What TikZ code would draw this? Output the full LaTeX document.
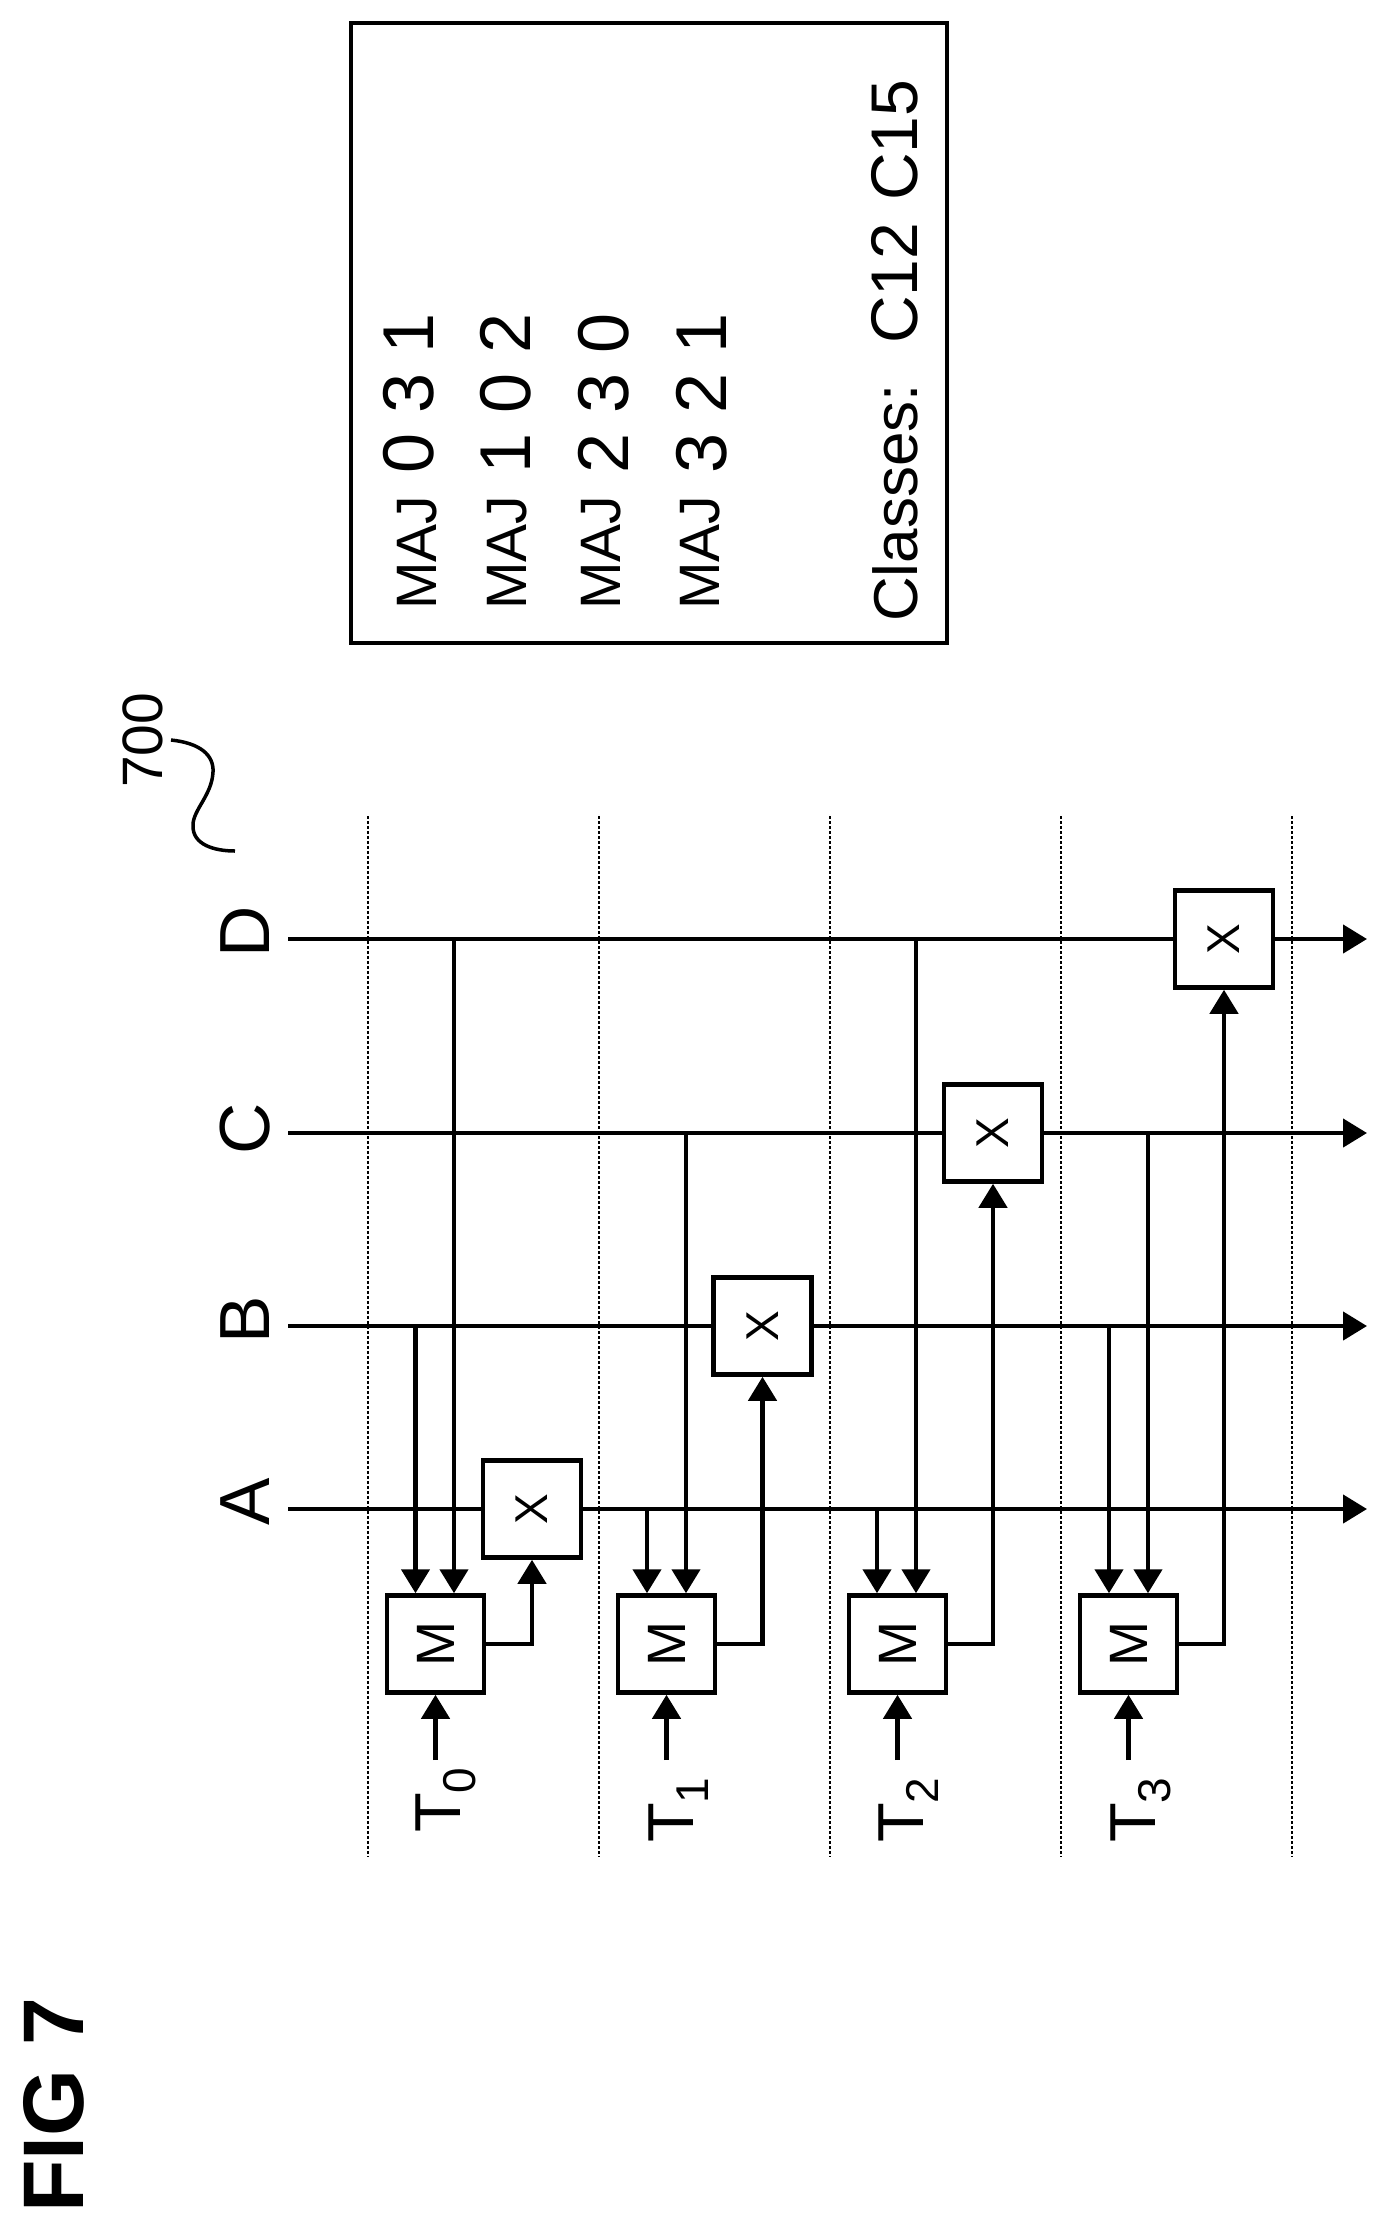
\documentclass[tikz,border=0pt]{standalone}
\usepackage{fontspec}
\usepackage{graphicx}
\setmainfont{Liberation Sans}
\usetikzlibrary{arrows.meta}
\newcommand{\fs}[1]{\fontsize{#1}{#1}\selectfont}
\newcommand{\tsub}[1]{\raisebox{-15pt}{\fs{46}#1}}
\newcommand{\gap}{\hspace{20pt}}
\tikzset{
	wire/.style={line width=4.5pt},
	arr/.style={wire, -{Triangle[length=24pt,width=28pt]}},
	gridline/.style={line width=2.5pt, dash pattern=on 2.5pt off 2.5pt},
	mbox/.style={draw, line width=4.5pt, fill=white, inner sep=0pt, minimum width=97pt, minimum height=97pt, font=\fs{54}},
	xbox/.style={draw, line width=4.5pt, fill=white, inner sep=0pt, minimum width=98pt, minimum height=97pt, font=\fs{46}},
	vtext/.style={rotate=90, anchor=base west, inner sep=0pt},
	wirelabel/.style={rotate=90, anchor=base, inner sep=0pt, font=\fs{71}},
	tlab/.style={vtext, font=\fs{65}},
	maj/.style={vtext, font=\fs{57}},
	digits/.style={vtext, font=\fs{72}}
}

\begin{document}
\begin{tikzpicture}[x=1pt, y=-1pt]
	\useasboundingbox (0,0) rectangle (1390,2228);
	% time steps
	\draw[gridline] (368,816) -- (368,1857);
	\draw[gridline] (599,816) -- (599,1857);
	\draw[gridline] (830,816) -- (830,1857);
	\draw[gridline] (1061,816) -- (1061,1857);
	\draw[gridline] (1292,816) -- (1292,1857);
	% qubit lines
	\coordinate (As) at (288,1509);
	\coordinate (Bs) at (288,1326);
	\coordinate (Cs) at (288,1133);
	\coordinate (Ds) at (288,939);
	\coordinate (Ae) at (1367,1509);
	\coordinate (Be) at (1367,1326);
	\coordinate (Ce) at (1367,1133);
	\coordinate (De) at (1367,939);
	\node[wirelabel] (A) at (269,1502) {A};
	\node[wirelabel] (B) at (269,1320) {B};
	\node[wirelabel] (C) at (269,1129) {C};
	\node[wirelabel] (D) at (269,932) {D};
	% boxes
	\node[mbox] (m0) at (435.5,1644) {\rotatebox{90}{M}};
	\node[mbox] (m1) at (666.5,1644) {\rotatebox{90}{M}};
	\node[mbox] (m2) at (897.5,1644) {\rotatebox{90}{M}};
	\node[mbox] (m3) at (1128.5,1644) {\rotatebox{90}{M}};
	\node[xbox] (x0) at (532,1509) {\rotatebox{90}{X}};
	\node[xbox] (x1) at (762.5,1326) {\rotatebox{90}{X}};
	\node[xbox] (x2) at (993,1133) {\rotatebox{90}{X}};
	\node[xbox] (x3) at (1224,939) {\rotatebox{90}{X}};
	\draw[wire] (As) -- (x0);
	\draw[arr] (x0) -- (Ae);
	\draw[wire] (Bs) -- (x1);
	\draw[arr] (x1) -- (Be);
	\draw[wire] (Cs) -- (x2);
	\draw[arr] (x2) -- (Ce);
	\draw[wire] (Ds) -- (x3);
	\draw[arr] (x3) -- (De);
	% taps into the M boxes
	\coordinate (t00) at (415.5,1326);
	\coordinate (t01) at (454,939);
	\coordinate (t10) at (647,1509);
	\coordinate (t11) at (686,1133);
	\coordinate (t20) at (877,1509);
	\coordinate (t21) at (916,939);
	\coordinate (t30) at (1109,1326);
	\coordinate (t31) at (1148,1133);
	\draw[arr] (t00) -- (t00 |- m0.north);
	\draw[arr] (t01) -- (t01 |- m0.north);
	\draw[arr] (t10) -- (t10 |- m1.north);
	\draw[arr] (t11) -- (t11 |- m1.north);
	\draw[arr] (t20) -- (t20 |- m2.north);
	\draw[arr] (t21) -- (t21 |- m2.north);
	\draw[arr] (t30) -- (t30 |- m3.north);
	\draw[arr] (t31) -- (t31 |- m3.north);
	% M to X
	\draw[arr] (m0.east) -| (x0.south);
	\draw[arr] (m1.east) -| (x1.south);
	\draw[arr] (m2.east) -| (x2.south);
	\draw[arr] (m3.east) -| (x3.south);
	% T inputs
	\coordinate (i0) at (435.5,1760);
	\coordinate (i1) at (666.5,1760);
	\coordinate (i2) at (897.5,1760);
	\coordinate (i3) at (1128.5,1760);
	\draw[arr] (i0) -- (m0.south);
	\draw[arr] (i1) -- (m1.south);
	\draw[arr] (i2) -- (m2.south);
	\draw[arr] (i3) -- (m3.south);
	\node[tlab] (T0) at (460,1833) {T\tsub{0}};
	\node[tlab] (T1) at (693,1843) {T\tsub{1}};
	\node[tlab] (T2) at (923,1843) {T\tsub{2}};
	\node[tlab] (T3) at (1155,1843) {T\tsub{3}};
	% reference number
	\node[vtext, font=\fs{57}] (ref) at (162,788) {700};
	\coordinate (refa) at (171,740);
	\coordinate (refb) at (235,851);
	\draw[line width=3.5pt] (refa) .. controls (200,743) and (214,755) .. (213,772) .. controls (212,795) and (193,810) .. (193,825) .. controls (192,845) and (215,851) .. (refb);
	% legend
	\node[draw, line width=4.5pt, minimum width=596pt, minimum height=620pt, inner sep=0pt] (legend) at (649,333) {};
	\node[maj] (maj0) at (436,610) {MAJ};
	\node[maj] (maj1) at (526,610) {MAJ};
	\node[maj] (maj2) at (620,610) {MAJ};
	\node[maj] (maj3) at (719,610) {MAJ};
	\node[digits] (dig0) at (433,474) {0\gap 3\gap 1};
	\node[digits] (dig1) at (530,474) {1\gap 0\gap 2};
	\node[digits] (dig2) at (628,474) {2\gap 3\gap 0};
	\node[digits] (dig3) at (726,474) {3\gap 2\gap 1};
	\node[vtext, font=\fs{62}] (classes) at (917,622) {Classes:};
	\node[vtext, font=\fs{66}] (c12) at (917,344) {C12};
	\node[vtext, font=\fs{66}] (c15) at (917,201) {C15};
	% title
	\node[vtext, font=\fs{86}\bfseries] (title) at (83,2213) {FIG 7};
\end{tikzpicture}
\end{document}
